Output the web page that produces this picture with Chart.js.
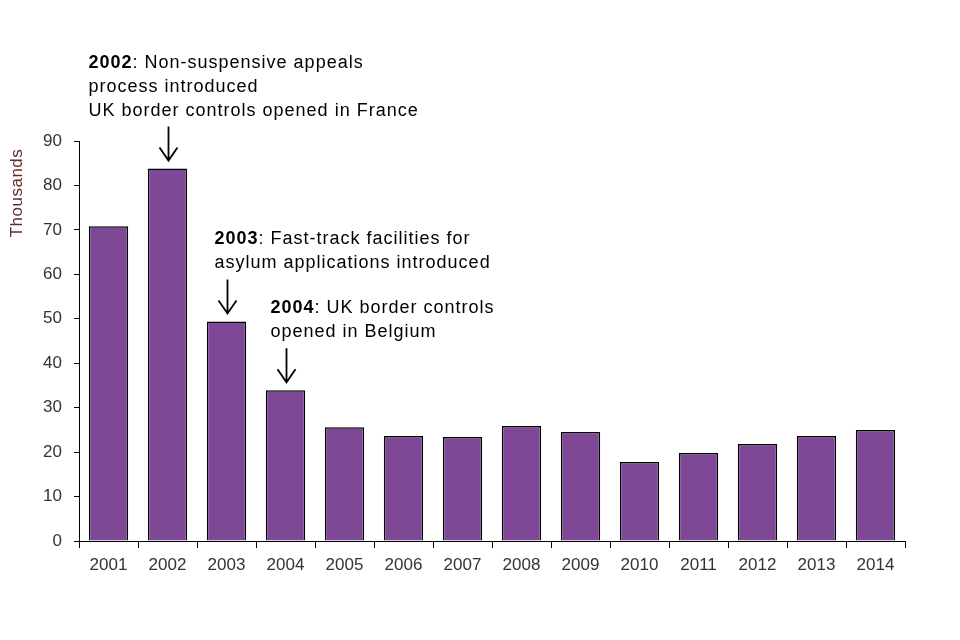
<!DOCTYPE html>
<html lang="en">
<head>
<meta charset="UTF-8">
<title>Asylum applications</title>
<script src="https://cdn.jsdelivr.net/npm/chart.js"></script>
<style>
    html, body { margin: 0; padding: 0; background: #fff; }
    #wrap { width: 960px; height: 640px; position: relative; }
</style>
</head>
<body>
<div id="wrap"><canvas id="grafico" width="960" height="640"></canvas></div>
<script>
// data
const years = ["2001", "2002", "2003", "2004", "2005", "2006", "2007", "2008", "2009", "2010", "2011", "2012", "2013", "2014"];
const thousands = [70.8, 83.8, 49.4, 33.9, 25.6, 23.6, 23.4, 25.9, 24.5, 17.8, 19.8, 21.8, 23.6, 25.0];
const yTicks = [0, 10, 20, 30, 40, 50, 60, 70, 80, 90];
const yTitle = "Thousands";

// notes that point at a bar: [bold part, rest] per line
const noteYears = ["2002", "2003", "2004"];
const noteLines = [
    [["2002", ": Non-suspensive appeals"], ["", "process introduced"], ["", "UK border controls opened in France"]],
    [["2003", ": Fast-track facilities for"], ["", "asylum applications introduced"]],
    [["2004", ": UK border controls"], ["", "opened in Belgium"]]
];
const noteShift = [80, 13, 16];   // how far the text starts left of the arrow

const FONT = "Arial, 'Liberation Sans', sans-serif";

const notesPlugin = {
    id: "notes",
    afterDatasetsDraw(chart) {
        const ctx = chart.ctx;
        const xs = chart.scales.x, ys = chart.scales.y;
        ctx.save();
        // axis title, sits near the top of the y axis
        ctx.save();
        ctx.translate(17, chart.chartArea.top + 52);
        ctx.rotate(-Math.PI / 2);
        ctx.fillStyle = "#632a2a";
        ctx.font = "17px " + FONT;
        ctx.letterSpacing = "0.5px";
        ctx.textAlign = "center";
        ctx.textBaseline = "middle";
        ctx.fillText(yTitle, 0, 0);
        ctx.restore();

        noteYears.forEach((yr, n) => {
            const i = years.indexOf(yr);
            const x = Math.round(xs.getPixelForValue(i)) + 0.5;
            const tip = ys.getPixelForValue(thousands[i]) - 8;
            const top = tip - 34;
            // arrow
            ctx.strokeStyle = "#000";
            ctx.lineWidth = 1.8;
            ctx.beginPath();
            ctx.moveTo(x, top);
            ctx.lineTo(x, tip);
            ctx.moveTo(x - 9, tip - 13);
            ctx.lineTo(x, tip);
            ctx.lineTo(x + 9, tip - 13);
            ctx.stroke();
            // text
            const lines = noteLines[n];
            const left = x - noteShift[n];
            ctx.fillStyle = "#000";
            ctx.textBaseline = "middle";
            ctx.textAlign = "left";
            ctx.letterSpacing = "1px";
            lines.forEach((ln, k) => {
                const y = top - 16 - (lines.length - 1 - k) * 24;
                let cx = left;
                if (ln[0]) {
                    ctx.font = "bold 18px " + FONT;
                    ctx.fillText(ln[0], cx, y);
                    cx += ctx.measureText(ln[0]).width;
                }
                ctx.font = "18px " + FONT;
                ctx.fillText(ln[1], cx, y);
            });
        });
        ctx.restore();
    }
};

new Chart(document.getElementById("grafico"), {
    type: "bar",
    data: {
        labels: years,
        datasets: [{
            label: "Thousands",
            data: thousands,
            backgroundColor: "#7f4896",
            borderColor: "#000",
            borderWidth: 1.5,
            categoryPercentage: 1,
            barPercentage: 0.667
        }]
    },
    options: {
        responsive: false,
        animation: false,
        devicePixelRatio: 1,
        layout: { padding: { left: 0, right: 55, top: 141, bottom: 59 } },
        plugins: {
            legend: { display: false },
            tooltip: { enabled: false }
        },
        scales: {
            x: {
                offset: true,
                grid: { display: true, offset: true, drawOnChartArea: false, drawTicks: true, tickLength: 7, color: "#000" },
                border: { color: "#000", width: 1 },
                ticks: { color: "#333", font: { family: FONT, size: 17 }, padding: 7, maxRotation: 0 },
                afterFit(s) { s.height = 40; }
            },
            y: {
                min: 0,
                max: 90,
                afterBuildTicks(s) { s.ticks = yTicks.map(v => ({ value: v })); },
                grid: { display: true, drawOnChartArea: false, drawTicks: true, tickLength: 5, color: "#000" },
                border: { color: "#000", width: 1 },
                ticks: { color: "#333", font: { family: FONT, size: 17 }, padding: 12 },
                afterFit(s) { s.width = 79; }
            }
        }
    },
    plugins: [notesPlugin]
});
</script>
</body>
</html>
